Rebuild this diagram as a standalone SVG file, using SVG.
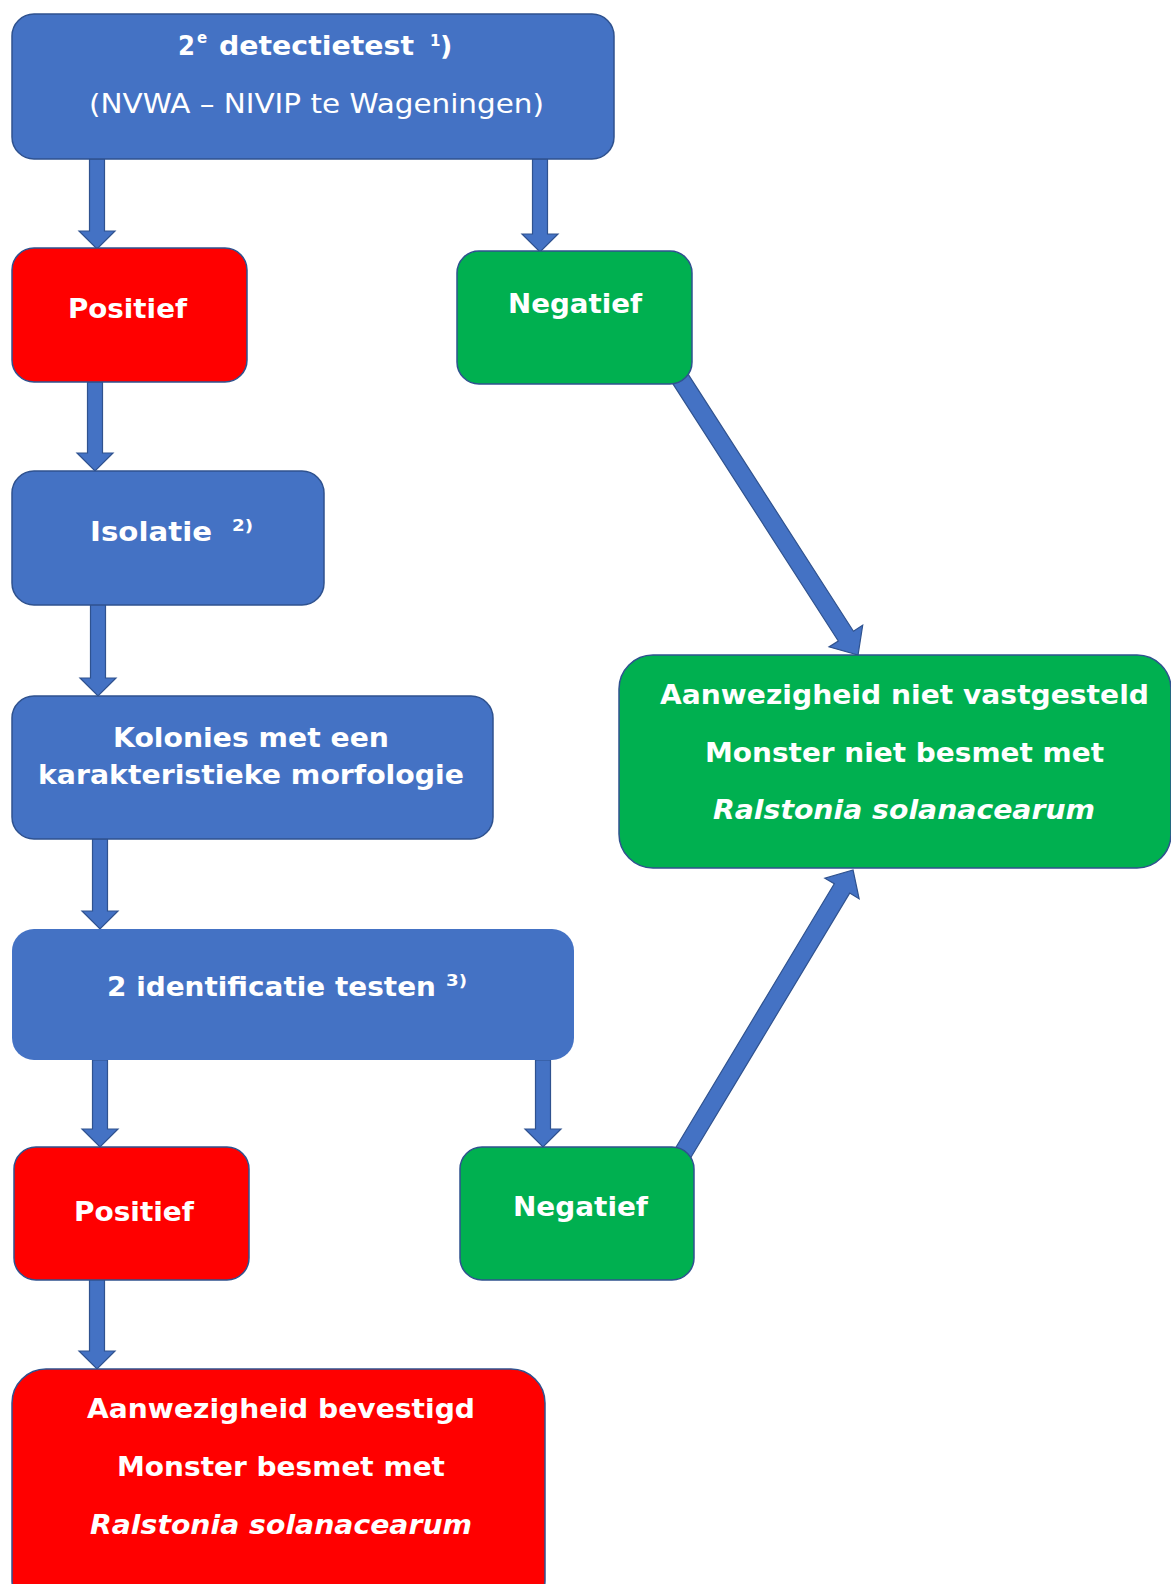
<svg xmlns="http://www.w3.org/2000/svg" width="1171" height="1584" viewBox="0 0 1171 1584">
<style>
.blue{fill:#4472C4;stroke:#2F528F;stroke-width:1.5}
.blue2{fill:#4472C4;stroke:none}
.red{fill:#FF0000;stroke:#2F528F;stroke-width:1.5}
.green{fill:#00B050;stroke:#2F528F;stroke-width:1.5}
.arr{fill:#4472C4;stroke:#2F528F;stroke-width:1.2}
text{font-family:"DejaVu Sans",Verdana,sans-serif;fill:#FFFFFF}
.b{font-weight:bold;font-size:27px}
.r{font-weight:normal;font-size:27px}
.bi{font-weight:bold;font-style:italic;font-size:27px}
.sup{font-weight:bold;font-size:15px}
</style>
<rect width="1171" height="1584" fill="#FFFFFF"/>
<g id="connectors">
<polygon class="arr" points="89.5,159 104.5,159 104.5,231 115,231 97,249 79,231 89.5,231"/>
<polygon class="arr" points="532.5,159 547.5,159 547.5,234 558,234 540,252 522,234 532.5,234"/>
<polygon class="arr" points="87.5,382 102.5,382 102.5,453 113,453 95,471 77,453 87.5,453"/>
<polygon class="arr" points="90.5,604 105.5,604 105.5,678 116,678 98,696 80,678 90.5,678"/>
<polygon class="arr" points="92.5,839 107.5,839 107.5,911 118,911 100,929 82,911 92.5,911"/>
<polygon class="arr" points="92.5,1060 107.5,1060 107.5,1129 118,1129 100,1147 82,1129 92.5,1129"/>
<polygon class="arr" points="535.5,1060 550.5,1060 550.5,1129 561,1129 543,1147 525,1129 535.5,1129"/>
<polygon class="arr" points="89.5,1279 104.5,1279 104.5,1351 115,1351 97,1369 79,1351 89.5,1351"/>
<polygon class="arr" transform="translate(676,372) rotate(57.25)" points="0,-9 314,-9 314,-20 336.5,0 314,20 314,9 0,9"/>
<polygon class="arr" transform="translate(681.3,1155.9) rotate(-59)" points="0,-9 312,-9 312,-20 333.5,0 312,20 312,9 0,9"/>
</g>
<g id="node-detectietest">
<rect class="blue" x="12" y="14" width="602" height="145" rx="22"/>
<text class="b" x="178" y="55" font-size="26" textLength="17" lengthAdjust="spacingAndGlyphs">2</text>
<text class="sup" x="197" y="43" font-size="12">e</text>
<text class="b" x="219" y="55" textLength="195" lengthAdjust="spacingAndGlyphs">detectietest</text>
<text class="sup" x="430" y="46">1</text>
<text class="b" x="440" y="55">)</text>
<text class="r" x="89" y="113" textLength="455" lengthAdjust="spacingAndGlyphs">(NVWA – NIVIP te Wageningen)</text>
</g>
<g id="node-positief1">
<rect class="red" x="12" y="248" width="235" height="134" rx="22"/>
<text class="b" x="68" y="318" textLength="119" lengthAdjust="spacingAndGlyphs">Positief</text>
</g>
<g id="node-negatief1">
<rect class="green" x="457" y="251" width="235" height="133" rx="22"/>
<text class="b" x="508" y="313" textLength="134" lengthAdjust="spacingAndGlyphs">Negatief</text>
</g>
<g id="node-isolatie">
<rect class="blue" x="12" y="471" width="312" height="134" rx="22"/>
<text class="b" x="90" y="541" textLength="122" lengthAdjust="spacingAndGlyphs">Isolatie</text>
<text class="sup" x="232" y="531" textLength="21" lengthAdjust="spacingAndGlyphs">2)</text>
</g>
<g id="node-kolonies">
<rect class="blue" x="12" y="696" width="481" height="143" rx="22"/>
<text class="b" x="113" y="747" textLength="276" lengthAdjust="spacingAndGlyphs">Kolonies met een</text>
<text class="b" x="38" y="784" textLength="426" lengthAdjust="spacingAndGlyphs">karakteristieke morfologie</text>
</g>
<g id="node-identificatie">
<rect class="blue2" x="12" y="929" width="562" height="131" rx="22"/>
<text class="b" x="107" y="996" textLength="329" lengthAdjust="spacingAndGlyphs">2 identificatie testen</text>
<text class="sup" x="446" y="986" textLength="21" lengthAdjust="spacingAndGlyphs">3)</text>
</g>
<g id="node-positief2">
<rect class="red" x="14" y="1147" width="235" height="133" rx="22"/>
<text class="b" x="74" y="1221" textLength="120" lengthAdjust="spacingAndGlyphs">Positief</text>
</g>
<g id="node-negatief2">
<rect class="green" x="460" y="1147" width="234" height="133" rx="22"/>
<text class="b" x="513" y="1216" textLength="135" lengthAdjust="spacingAndGlyphs">Negatief</text>
</g>
<g id="node-niet-vastgesteld">
<rect class="green" x="619" y="655" width="552" height="213" rx="34"/>
<text class="b" x="660" y="704" textLength="489" lengthAdjust="spacingAndGlyphs">Aanwezigheid niet vastgesteld</text>
<text class="b" x="705" y="762" textLength="399" lengthAdjust="spacingAndGlyphs">Monster niet besmet met</text>
<text class="bi" x="713" y="819" textLength="382" lengthAdjust="spacingAndGlyphs">Ralstonia solanacearum</text>
</g>
<g id="node-bevestigd">
<rect class="red" x="12" y="1369" width="533" height="245" rx="34"/>
<text class="b" x="87" y="1418" textLength="388" lengthAdjust="spacingAndGlyphs">Aanwezigheid bevestigd</text>
<text class="b" x="117" y="1476" textLength="328" lengthAdjust="spacingAndGlyphs">Monster besmet met</text>
<text class="bi" x="90" y="1534" textLength="382" lengthAdjust="spacingAndGlyphs">Ralstonia solanacearum</text>
</g>
</svg>
